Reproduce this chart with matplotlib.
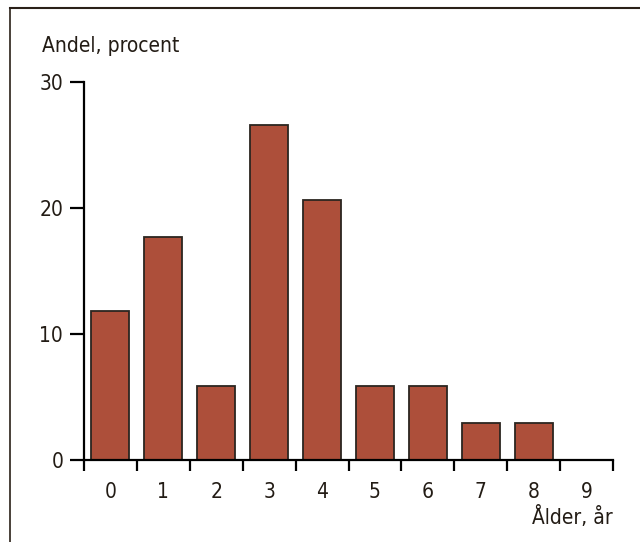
import matplotlib.pyplot as plt
from matplotlib.lines import Line2D

ages = [0, 1, 2, 3, 4, 5, 6, 7, 8, 9]
shares = [11.8, 17.7, 5.9, 26.6, 20.6, 5.9, 5.9, 2.9, 2.9, 0]
yticks = [0, 10, 20, 30]

plt.rcParams['font.family'] = ['Liberation Sans Narrow', 'DejaVu Sans']
plt.rcParams['font.stretch'] = 'condensed'
ink = '#231c15'

fig = plt.figure(figsize=(6.4, 5.42), dpi=100)
ax = fig.add_axes([84 / 640, 1 - 460 / 542, (613 - 84) / 640, (460 - 82) / 542])

ax.bar(ages, shares, width=0.72, color='#ad4f3a', edgecolor='#2b2520', linewidth=1.3)

ax.set_xlim(-0.5, 9.5)
ax.set_ylim(0, 30)
for side in ['top', 'right']:
    ax.spines[side].set_visible(False)
for side in ['left', 'bottom']:
    ax.spines[side].set_linewidth(1.6)
    ax.spines[side].set_color('black')

ax.set_yticks(yticks)
ax.tick_params(axis='y', direction='out', length=10, width=1.6, pad=5,
               labelsize=15, labelcolor=ink)
ax.set_xticks(ages)
ax.set_xticks([a - 0.5 for a in ages] + [9.5], minor=True)
ax.tick_params(axis='x', which='major', length=0, pad=16, labelsize=15, labelcolor=ink)
ax.tick_params(axis='x', which='minor', direction='out', length=8, width=1.6)

fig.text(42 / 640, 1 - 46 / 542, 'Andel, procent', fontsize=15, color=ink,
         ha='left', va='center')
fig.text(613 / 640, 1 - 517 / 542, 'Ålder, år', fontsize=15, color=ink,
         ha='right', va='center')

# frame around the figure (top and left edges)
fig.add_artist(Line2D([10 / 640, 1], [1 - 8 / 542] * 2, color='#2a2018', linewidth=1.5))
fig.add_artist(Line2D([10 / 640] * 2, [0, 1 - 8 / 542], color='#2a2018', linewidth=1.2))

fig.savefig('out.png', dpi=100)
